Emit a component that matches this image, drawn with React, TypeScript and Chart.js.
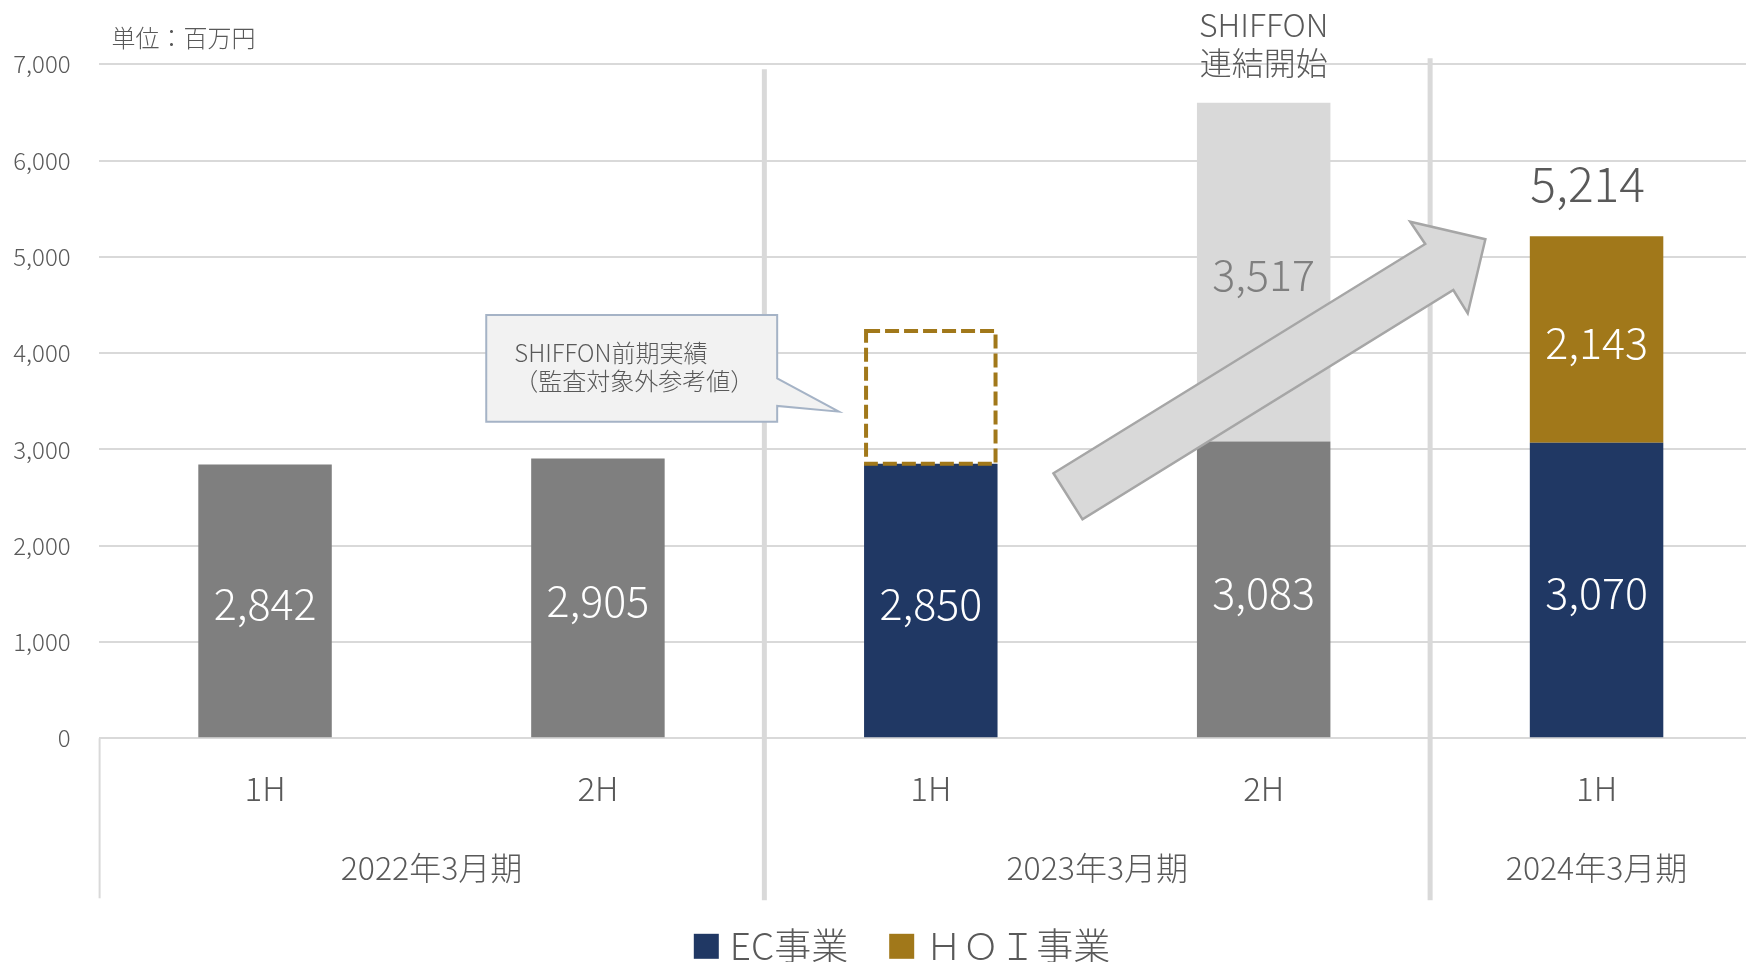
import React, { useEffect, useRef } from 'react';
import { Chart, registerables } from 'chart.js';

Chart.register(...registerables);

// ---------- data ----------
const halfLabels = ['1H', '2H', '1H', '2H', '1H'];
const periodLabels = ['2022年3月期', '2023年3月期', '2024年3月期'];
const periodFirstIndex = [0, 2, 4];
const periodLastIndex = [1, 3, 4];

const preConsolidated = [2842, 2905, null, 3083, null]; // gray bars
const ecSales = [null, null, 2850, null, 3070];
const shiffonPriorRef = [null, null, 1400, null, null]; // dashed reference box
const shiffonSales = [null, null, null, 3517, null];
const hoiSales = [null, null, null, null, 2143];
const totalLabels = [null, null, null, null, 5214];

const yMin = 0;
const yMax = 7000;
const yStep = 1000;

const unitText = '単位：百万円';
const noteLines = ['SHIFFON', '連結開始'];
const calloutLines = ['SHIFFON前期実績', '（監査対象外参考値）'];

// annotation shapes in data space: [category index, value]
const arrowShape = [
  [2.3685, 2752], [3.4853, 5133], [3.4402, 5364], [3.666, 5182],
  [3.613, 4413], [3.5697, 4655], [2.4557, 2274],
];
const calloutBox = { x0: 0.6645, x1: 1.5385, top: 4396, bottom: 3288 };
const calloutTail = [[1.5385, 3738], [1.7237, 3392], [1.5385, 3451]];

// ---------- styles ----------
const FONT = "'Noto Sans CJK JP', 'Noto Sans', sans-serif";
const WEIGHT = 300;
const TEXT = '#595959';
const GRID = '#d9d9d9';
const GRAY = '#7f7f7f';
const LIGHT = '#d9d9d9';
const NAVY = '#203864';
const GOLD = '#a1781a';

const f = (size: number) => `${WEIGHT} ${size}px ${FONT}`;

const labelColors = ['#ffffff', '#ffffff', null, GRAY, '#ffffff'];

const decor = {
  id: 'decor',
  beforeDatasetsDraw(chart: any) {
    const { ctx, chartArea, scales } = chart;
    const x = scales.x;
    const bottomY = chartArea.bottom + 160;
    ctx.save();
    ctx.strokeStyle = GRID;
    ctx.lineWidth = 2;
    ctx.beginPath();
    ctx.moveTo(chartArea.left + 1, chartArea.bottom);
    ctx.lineTo(chartArea.left + 1, bottomY);
    ctx.stroke();
    ctx.lineWidth = 5;
    const tops = [5, -6];
    for (let g = 1; g < periodFirstIndex.length; g++) {
      const i = periodFirstIndex[g];
      const sx = (x.getPixelForValue(i - 1) + x.getPixelForValue(i)) / 2;
      ctx.beginPath();
      ctx.moveTo(sx, chartArea.top + tops[g - 1]);
      ctx.lineTo(sx, bottomY + 2);
      ctx.stroke();
    }
    ctx.restore();
  },
  afterDatasetsDraw(chart: any) {
    const { ctx, chartArea, scales } = chart;
    const x = scales.x;
    const y = scales.y;
    const px = (v: number) => x.getPixelForValue(v);
    const py = (v: number) => y.getPixelForValue(v);
    ctx.save();

    // dashed reference box
    const dashMeta = chart.getDatasetMeta(2);
    dashMeta.data.forEach((el: any, i: number) => {
      if (shiffonPriorRef[i] == null) return;
      const p = el.getProps(['x', 'y', 'base', 'width'], true);
      ctx.strokeStyle = GOLD;
      ctx.lineWidth = 4;
      ctx.setLineDash([14, 5]);
      ctx.strokeRect(p.x - p.width / 2 + 2, p.y + 2, p.width - 4, p.base - p.y - 2);
      ctx.setLineDash([]);
    });

    // arrow
    ctx.beginPath();
    arrowShape.forEach(([a, b], i) => {
      if (i === 0) ctx.moveTo(px(a), py(b));
      else ctx.lineTo(px(a), py(b));
    });
    ctx.closePath();
    ctx.fillStyle = '#d9d9d9';
    ctx.fill();
    ctx.strokeStyle = '#a6a6a6';
    ctx.lineWidth = 2.5;
    ctx.lineJoin = 'miter';
    ctx.stroke();

    // callout
    const cl = px(calloutBox.x0), cr = px(calloutBox.x1);
    const ct = py(calloutBox.top), cb = py(calloutBox.bottom);
    ctx.beginPath();
    ctx.moveTo(cl, ct);
    ctx.lineTo(cr, ct);
    calloutTail.forEach(([a, b]) => ctx.lineTo(px(a), py(b)));
    ctx.lineTo(cr, cb);
    ctx.lineTo(cl, cb);
    ctx.closePath();
    ctx.fillStyle = '#f2f2f2';
    ctx.fill();
    ctx.strokeStyle = '#a5b3c6';
    ctx.lineWidth = 2;
    ctx.stroke();
    ctx.fillStyle = TEXT;
    ctx.font = f(24);
    ctx.textAlign = 'left';
    ctx.textBaseline = 'middle';
    ctx.fillText(calloutLines[0], cl + 28, ct + 38);
    ctx.fillText(calloutLines[1], cl + 28, ct + 66);

    // value labels inside bars
    ctx.textAlign = 'center';
    ctx.font = f(43);
    chart.data.datasets.forEach((ds: any, di: number) => {
      const color = labelColors[di];
      if (!color) return;
      const meta = chart.getDatasetMeta(di);
      meta.data.forEach((el: any, i: number) => {
        const v = ds.data[i];
        if (v == null) return;
        const p = el.getProps(['x', 'y', 'base'], true);
        ctx.fillStyle = color;
        ctx.fillText(v.toLocaleString('en-US'), p.x, (p.y + p.base) / 2 + 3);
      });
    });

    // total label
    ctx.font = f(48);
    ctx.fillStyle = TEXT;
    totalLabels.forEach((t, i) => {
      if (t == null) return;
      ctx.fillText(t.toLocaleString('en-US'), px(i) - 9, py(t) - 52);
    });

    // note above consolidated bar
    ctx.font = f(32);
    ctx.fillText(noteLines[0], px(3), chartArea.top - 39);
    ctx.fillText(noteLines[1], px(3), chartArea.top - 1);

    // unit
    ctx.font = f(24);
    ctx.textAlign = 'left';
    ctx.fillText(unitText, chartArea.left + 13, chartArea.top - 26);

    // period labels
    ctx.font = f(32);
    ctx.textAlign = 'center';
    periodLabels.forEach((lab, g) => {
      const cx = (px(periodFirstIndex[g]) + px(periodLastIndex[g])) / 2;
      ctx.fillText(lab, cx, chartArea.bottom + 130);
    });

    // legend
    const items = chart.data.datasets.filter((d: any) => d.showInLegend);
    ctx.font = f(37);
    const box = 25, gap = 11, spacing = 41;
    const widths = items.map((d: any) => box + gap + ctx.measureText(d.label).width);
    const total = widths.reduce((a: number, b: number) => a + b, 0) + spacing * (items.length - 1);
    let lx = 902 - total / 2;
    const ly = chartArea.bottom + 208;
    ctx.textAlign = 'left';
    items.forEach((d: any, i: number) => {
      ctx.fillStyle = d.backgroundColor;
      ctx.fillRect(lx, ly - box / 2, box, box);
      ctx.fillStyle = TEXT;
      ctx.fillText(d.label, lx + box + gap, ly);
      lx += widths[i] + spacing;
    });
    ctx.restore();
  },
};

export default function App() {
  const ref = useRef<HTMLCanvasElement>(null);
  useEffect(() => {
    const chart = new Chart(ref.current as HTMLCanvasElement, {
      type: 'bar',
      data: {
        labels: halfLabels,
        datasets: [
          { label: '売上高', data: preConsolidated, backgroundColor: GRAY },
          { label: 'EC事業', data: ecSales, backgroundColor: NAVY, showInLegend: true },
          { label: 'SHIFFON前期実績', data: shiffonPriorRef, backgroundColor: 'rgba(0,0,0,0)' },
          { label: 'SHIFFON', data: shiffonSales, backgroundColor: LIGHT },
          { label: 'ＨＯＩ事業', data: hoiSales, backgroundColor: GOLD, showInLegend: true },
        ] as any,
      },
      options: {
        responsive: false,
        animation: false,
        devicePixelRatio: 1,
        datasets: { bar: { barPercentage: 0.401, categoryPercentage: 1 } },
        layout: { padding: { top: 64.2, left: 0, right: 0, bottom: 0 } },
        plugins: { legend: { display: false }, tooltip: { enabled: false } },
        scales: {
          x: {
            stacked: true,
            grid: { display: false, drawTicks: false },
            border: { display: false },
            ticks: {
              color: TEXT,
              font: { family: FONT, size: 33, weight: WEIGHT as any },
              padding: 30,
              maxRotation: 0,
              autoSkip: false,
            },
            afterFit: (s: any) => { s.height = s.chart.height - 738.3; },
          },
          y: {
            stacked: true,
            min: yMin,
            max: yMax,
            grid: { color: GRID, lineWidth: 2, drawTicks: false },
            border: { display: false },
            ticks: {
              stepSize: yStep,
              color: TEXT,
              padding: 28,
              font: { family: FONT, size: 24, weight: WEIGHT as any },
              callback: (v: any) => Number(v).toLocaleString('en-US'),
            },
            afterFit: (s: any) => { s.width = 98.6; },
          },
        },
      },
      plugins: [decor],
    });
    return () => chart.destroy();
  }, []);
  return (
    <div style={{ position: 'fixed', left: 0, top: 0, width: 1746, height: 962, overflow: 'hidden', background: '#fff' }}>
      <canvas ref={ref} width={1763} height={962} style={{ display: 'block', width: 1763, height: 962 }} />
    </div>
  );
}
